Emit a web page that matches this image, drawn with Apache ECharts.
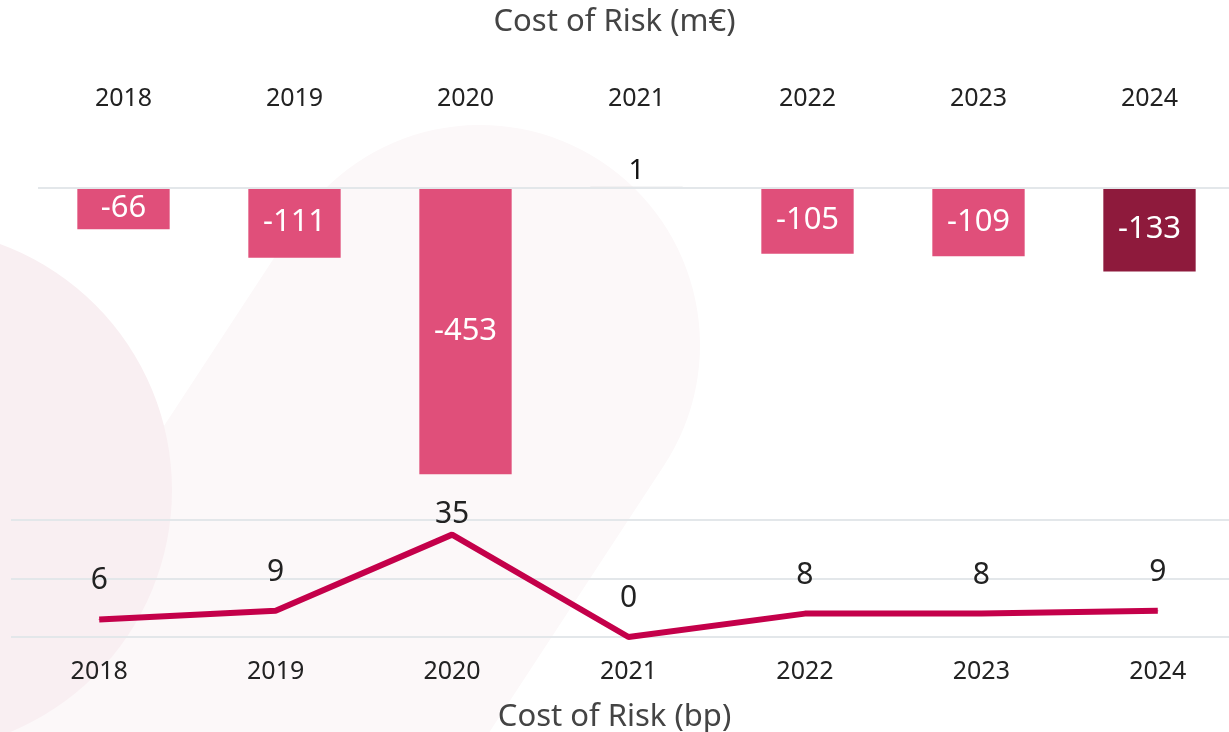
<!DOCTYPE html>
<html>
<head>
<meta charset="utf-8">
<script src="https://cdn.jsdelivr.net/npm/echarts@6/dist/echarts.min.js"></script>
<style>
  html, body { margin: 0; padding: 0; background: #fff; }
  #chart { width: 1229px; height: 732px; }
</style>
</head>
<body>
<div id="chart"></div>
<script>
var years = ['2018', '2019', '2020', '2021', '2022', '2023', '2024'];
var costRiskMeur = [-66, -111, -453, 1, -105, -109, -133];
var costRiskBp = [6, 9, 35, 0, 8, 8, 9];

var font = 'Noto Sans';
var pink = '#e04f7a';
var darkRed = '#8e1a3c';
var lineRed = '#c4004a';

// bar colours: last year highlighted, tiny positive value grey
var barData = costRiskMeur.map(function (v, i) {
  var c = pink;
  if (i === costRiskMeur.length - 1) c = darkRed;
  if (v > 0) c = '#d5d8dc';
  return {
    value: v,
    itemStyle: { color: c },
    label: v > 0
      ? { position: 'top', color: '#111', distance: 2, fontSize: 28 }
      : { position: 'inside', color: '#fff' }
  };
});

var maxBp = Math.max.apply(null, costRiskBp);
var lineData = costRiskBp.map(function (v) {
  return { value: v, label: { distance: v === maxBp ? 5 : 23 } };
});

var myChart = echarts.init(document.getElementById('chart'));
myChart.setOption({
  animation: false,
  graphic: [
    {
      type: 'circle', z: -10, silent: true,
      shape: { cx: -90, cy: 490, r: 262 },
      style: { fill: '#f9eff2' }
    },
    {
      type: 'rect', z: -11, silent: true,
      x: 480, y: 345, originX: 0, originY: 0, rotation: -0.58,
      shape: { x: -220, y: -220, width: 440, height: 950, r: 220 },
      style: { fill: '#fcf8f9' }
    }
  ],
  title: [
    {
      text: 'Cost of Risk (m€)', left: 'center', top: 2,
      textStyle: { fontFamily: font, fontSize: 31, fontWeight: 'normal', color: '#444' }
    },
    {
      text: 'Cost of Risk (bp)', left: 'center', top: 697,
      textStyle: { fontFamily: font, fontSize: 31, fontWeight: 'normal', color: '#444' }
    }
  ],
  grid: [
    { left: 38, width: 1197, top: 124, height: 380, outerBoundsMode: 'none' },
    { left: 11, width: 1235, top: 520, height: 117, outerBoundsMode: 'none' }
  ],
  xAxis: [
    {
      gridIndex: 0, type: 'category', data: years, position: 'top',
      axisLine: { show: false }, axisTick: { show: false },
      axisLabel: { fontFamily: font, fontSize: 25, color: '#222', margin: 13 }
    },
    {
      gridIndex: 1, type: 'category', data: years, position: 'bottom',
      axisLine: { show: false }, axisTick: { show: false },
      axisLabel: { fontFamily: font, fontSize: 25, color: '#222', margin: 22 }
    }
  ],
  yAxis: [
    {
      gridIndex: 0, type: 'value', min: -500, max: 100, show: false,
      splitLine: { show: false }
    },
    {
      gridIndex: 1, type: 'value', min: 0, max: 40, interval: 20,
      axisLabel: { show: false }, axisLine: { show: false }, axisTick: { show: false },
      splitLine: { lineStyle: { color: '#e3e7ea', width: 2 } }
    }
  ],
  series: [
    {
      type: 'bar', xAxisIndex: 0, yAxisIndex: 0,
      data: barData, barWidth: '54%',
      label: { show: true, fontFamily: font, fontSize: 31 },
      markLine: {
        silent: true, symbol: 'none', label: { show: false },
        lineStyle: { color: '#e3e7ea', width: 2, type: 'solid' },
        data: [{ yAxis: 0 }]
      }
    },
    {
      type: 'line', xAxisIndex: 1, yAxisIndex: 1,
      data: lineData, symbol: 'circle', symbolSize: 1,
      lineStyle: { color: lineRed, width: 6 },
      itemStyle: { color: lineRed },
      label: { show: true, position: 'top', fontFamily: font, fontSize: 30, color: '#222' }
    }
  ]
});
</script>
</body>
</html>
